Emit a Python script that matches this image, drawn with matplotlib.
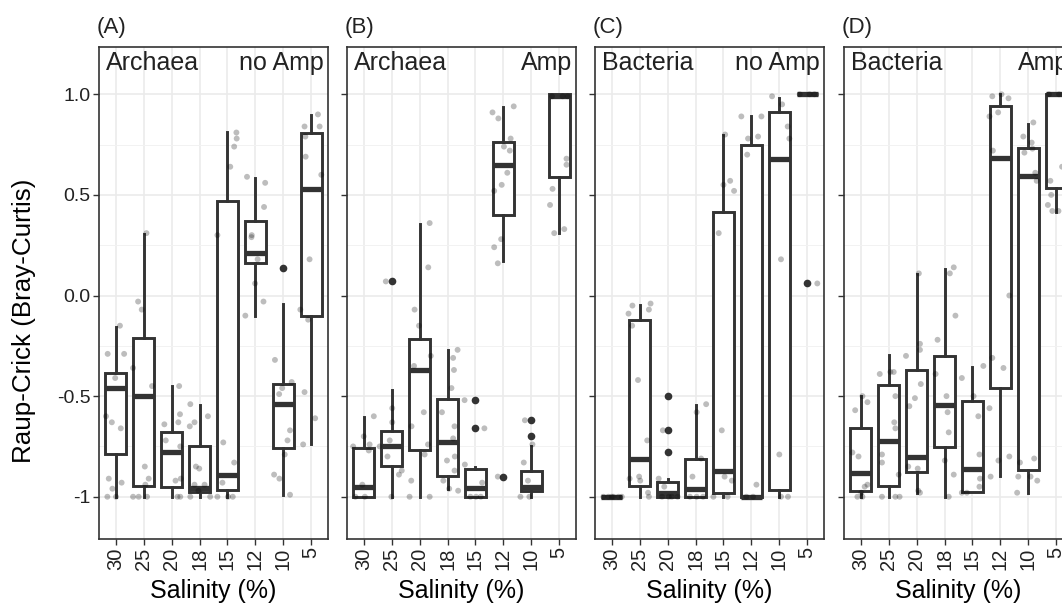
import matplotlib
matplotlib.use('Agg')
import matplotlib.pyplot as plt
import numpy as np

plt.rcParams['font.family'] = ['Liberation Sans', 'DejaVu Sans']

# ========== Datos ==========
salinity = ['30', '25', '20', '18', '15', '12', '10', '5']
panel_tags = ['(A)', '(B)', '(C)', '(D)']
domains = ['Archaea', 'Archaea', 'Bacteria', 'Bacteria']
treatments = ['no Amp', 'Amp', 'no Amp', 'Amp']

# ---------- Panel A: Archaea, no Amp ----------
a_lo = [-1.0, -1.0, -1.0, -1.0, -1.0, -0.10, -0.99, -0.74]
a_q1 = [-0.79, -0.945, -0.954, -0.974, -0.968, 0.16, -0.758, -0.10]
a_med = [-0.46, -0.50, -0.78, -0.955, -0.89, 0.21, -0.54, 0.53]
a_q3 = [-0.386, -0.209, -0.679, -0.75, 0.47, 0.371, -0.439, 0.81]
a_hi = [-0.154, 0.308, -0.452, -0.543, 0.815, 0.586, -0.043, 0.896]
a_out = [[], [], [], [], [], [], [0.137], []]
a_pts = [
    [(-0.29, -0.29), (0.30, -0.29), (0.15, -0.15), (-0.02, -0.41), (-0.35, -0.60), (-0.14, -0.63),
     (0.18, -0.66), (-0.25, -0.91), (-0.12, -0.96), (0.21, -0.93), (-0.30, -1.0), (0.01, -1.0)],
    [(0.10, 0.31), (-0.20, -0.03), (-0.07, -0.07), (-0.38, -0.36), (0.30, -0.45), (0.04, -0.85),
     (0.18, -0.91), (0.06, -0.94), (-0.38, -1.0), (-0.18, -1.0), (0.12, -1.0)],
    [(0.27, -0.45), (0.30, -0.59), (-0.26, -0.64), (0.24, -0.63), (-0.21, -0.72), (0.31, -0.75),
     (0.14, -0.92), (0.33, -0.91), (0.21, -1.0), (0.31, -1.0)],
    [(-0.33, -0.54), (0.30, -0.60), (-0.18, -0.63), (-0.35, -0.65), (-0.13, -0.85), (-0.01, -0.86),
     (-0.18, -0.94), (0.18, -0.94), (-0.04, -0.97), (-0.33, -1.0), (0.38, -1.0)],
    [(0.32, 0.81), (0.33, 0.78), (0.24, 0.74), (0.10, 0.64), (-0.36, 0.30), (-0.15, -0.73),
     (0.24, -0.83), (-0.18, -0.93), (-0.36, -1.0), (0.02, -1.0), (0.19, -1.0)],
    [(-0.30, 0.59), (0.35, 0.56), (0.31, 0.44), (-0.13, 0.30), (-0.14, 0.29), (0.08, 0.18),
     (-0.01, 0.06), (0.29, -0.03), (-0.36, -0.10)],
    [(-0.30, -0.32), (0.30, -0.43), (-0.04, -0.46), (-0.15, -0.49), (0.24, -0.67), (0.15, -0.72),
     (0.05, -0.79), (-0.33, -0.89), (-0.14, -0.91), (0.24, -0.99)],
    [(0.24, 0.90), (-0.24, 0.84), (0.30, 0.84), (-0.21, 0.79), (-0.20, 0.69), (0.36, 0.60),
     (-0.06, 0.18), (-0.39, -0.07), (-0.11, -0.12), (-0.24, -0.48), (0.14, -0.61), (-0.29, -0.74)],
]

# ---------- Panel B: Archaea, Amp ----------
b_lo = [-1.0, -1.0, -1.0, -0.962, -1.0, 0.17, -1.0, 0.31]
b_q1 = [-1.0, -0.849, -0.767, -0.899, -1.0, 0.40, -0.969, 0.591]
b_med = [-0.952, -0.747, -0.369, -0.73, -0.955, 0.649, -0.952, 0.99]
b_q3 = [-0.76, -0.672, -0.217, -0.515, -0.863, 0.765, -0.871, 1.0]
b_hi = [-0.604, -0.47, 0.356, -0.273, -0.85, 0.935, -0.747, 1.0]
b_out = [[], [0.07], [], [], [-0.52, -0.66], [-0.90], [-0.62, -0.70], []]
b_pts = [
    [(0.36, -0.60), (0.0, -0.70), (0.21, -0.74), (-0.38, -0.75), (0.18, -0.77), (-0.05, -0.94),
     (-0.30, -1.0), (0.04, -1.0)],
    [(-0.21, 0.07), (0.02, -0.56), (0.02, -0.63), (-0.07, -0.72), (-0.43, -0.75), (-0.15, -0.80),
     (0.36, -0.87), (0.26, -0.89), (-0.01, -1.0)],
    [(0.36, 0.36), (0.31, 0.14), (-0.18, -0.07), (-0.02, -0.15), (0.40, -0.30), (-0.20, -0.35),
     (0.15, -0.58), (-0.29, -0.65), (0.30, -0.74), (0.18, -0.79), (-0.30, -0.92), (-0.36, -1.0),
     (0.36, -1.0)],
    [(0.36, -0.27), (0.20, -0.31), (0.23, -0.37), (0.14, -0.46), (-0.20, -0.58), (0.25, -0.65),
     (0.20, -0.71), (0.26, -0.80), (-0.02, -0.82), (0.25, -0.87), (-0.15, -0.92), (0.06, -0.96),
     (0.38, -0.97)],
    [(-0.39, -0.52), (0.32, -0.66), (-0.38, -0.84), (0.24, -0.93), (-0.18, -1.0), (0.02, -1.0),
     (0.19, -1.0)],
    [(0.37, 0.94), (-0.39, 0.91), (-0.18, 0.88), (0.26, 0.78), (0.02, 0.74), (0.23, 0.72),
     (0.14, 0.61), (-0.06, 0.55), (-0.33, 0.52), (-0.08, 0.28), (-0.33, 0.24), (-0.20, 0.16),
     (-0.20, -0.90)],
    [(-0.23, -0.62), (0.04, -0.74), (-0.27, -0.83), (-0.12, -0.92), (-0.39, -1.0), (-0.07, -1.0)],
    [(-0.26, 0.99), (0.12, 0.99), (0.30, 0.99), (0.26, 0.68), (0.26, 0.65), (-0.24, 0.53),
     (-0.33, 0.45), (0.18, 0.33), (-0.18, 0.31)],
]

# ---------- Panel C: Bacteria, no Amp ----------
c_lo = [-1.0, -1.0, -1.0, -1.0, -1.0, -1.0, -1.0, 1.0]
c_q1 = [-1.0, -0.949, -1.0, -1.0, -0.98, -1.0, -0.965, 1.0]
c_med = [-1.0, -0.813, -0.98, -0.962, -0.87, -1.0, 0.679, 1.0]
c_q3 = [-1.0, -0.121, -0.925, -0.813, 0.417, 0.747, 0.914, 1.0]
c_hi = [-1.0, -0.046, -0.91, -0.543, 0.80, 0.892, 0.98, 1.0]
c_out = [[], [], [-0.50, -0.67, -0.78], [], [], [], [], [0.06]]
c_pts = [
    [(-0.30, -1.0), (-0.12, -1.0), (0.06, -1.0), (0.24, -1.0), (0.36, -1.0), (0.0, -1.0)],
    [(0.39, -0.04), (-0.26, -0.05), (0.33, -0.07), (-0.40, -0.09), (-0.27, -0.15), (-0.06, -0.42),
     (0.27, -0.72), (-0.36, -0.91), (-0.02, -0.90), (0.02, -0.92), (0.30, -0.98), (0.33, -1.0)],
    [(-0.17, -0.67), (-0.32, -0.91), (-0.12, -0.95), (-0.20, -1.0), (0.04, -1.0), (0.15, -1.0),
     (0.36, -1.0)],
    [(0.38, -0.54), (0.04, -0.58), (0.20, -0.81), (-0.11, -0.90), (-0.20, -1.0), (0.04, -1.0),
     (0.27, -1.0)],
    [(0.06, 0.80), (0.24, 0.57), (0.0, 0.55), (0.38, 0.52), (-0.17, 0.31), (-0.06, -0.67),
     (0.04, -0.90), (0.30, -0.92), (0.15, -1.0), (-0.36, -1.0)],
    [(-0.36, 0.89), (0.36, 0.89), (0.24, 0.79), (-0.12, 0.78), (-0.15, 0.70), (0.18, -0.94),
     (-0.18, -1.0), (0.06, -1.0)],
    [(-0.26, 0.99), (0.10, 0.95), (0.30, 0.84), (0.36, 0.78), (0.06, 0.18), (0.0, -0.79),
     (0.31, -1.0), (0.06, -1.0)],
    [(0.36, 0.06), (-0.27, 1.0), (0.08, 1.0), (0.26, 1.0)],
]

# ---------- Panel D: Bacteria, Amp ----------
d_lo = [-1.0, -1.0, -0.98, -1.0, -0.974, -0.899, -0.98, 0.417]
d_q1 = [-0.97, -0.945, -0.879, -0.755, -0.974, -0.46, -0.866, 0.533]
d_med = [-0.883, -0.722, -0.803, -0.543, -0.861, 0.685, 0.596, 1.0]
d_q3 = [-0.659, -0.444, -0.369, -0.303, -0.523, 0.944, 0.735, 1.0]
d_hi = [-0.498, -0.295, 0.106, 0.132, -0.356, 1.0, 0.851, 1.0]
d_out = [[], [], [], [], [], [], [], []]
d_pts = [
    [(0.06, -0.50), (0.24, -0.53), (-0.20, -0.57), (-0.30, -0.78), (-0.08, -0.80), (0.24, -0.94),
     (0.14, -0.95), (0.02, -0.98), (-0.12, -1.0), (0.06, -1.0)],
    [(0.18, -0.38), (0.06, -0.38), (-0.32, -0.39), (0.24, -0.50), (0.20, -0.63), (0.24, -0.66),
     (-0.24, -0.79), (-0.24, -0.83), (0.36, -0.89), (-0.24, -1.0), (0.24, -1.0), (0.39, -1.0)],
    [(0.08, 0.11), (0.12, -0.24), (0.12, -0.27), (-0.38, -0.30), (0.15, -0.44), (-0.06, -0.51),
     (-0.26, -0.55), (-0.30, -0.85), (0.04, -0.86), (0.06, -0.97), (0.12, -0.98)],
    [(0.33, 0.14), (0.19, 0.11), (0.39, -0.10), (-0.25, -0.22), (-0.32, -0.39), (0.07, -0.50),
     (0.11, -0.58), (0.15, -0.68), (0.01, -0.82), (0.33, -0.89), (0.15, -1.0)],
    [(0.39, -0.35), (-0.38, -0.41), (0.04, -0.50), (0.21, -0.60), (0.25, -0.79), (0.27, -0.91),
     (0.25, -0.95), (-0.20, -0.98), (-0.38, -0.98)],
    [(0.04, 1.0), (-0.29, 0.99), (0.29, 0.98), (-0.08, 0.91), (-0.39, 0.89), (-0.27, 0.72),
     (0.32, 0.0), (-0.29, -0.31), (0.11, -0.36), (-0.39, -0.56), (-0.07, -0.82), (0.32, -0.80),
     (-0.35, -0.90)],
    [(0.18, 0.86), (-0.18, 0.79), (0.12, 0.76), (-0.14, 0.71), (0.15, 0.73), (0.25, 0.61),
     (0.30, 0.57), (0.21, -0.81), (-0.30, -0.83), (0.08, -0.90), (-0.36, -0.90), (0.32, -0.92),
     (-0.40, -0.98)],
    [(-0.21, 0.57), (0.21, 0.64), (-0.18, 0.50), (-0.30, 0.45), (-0.14, 0.42), (0.08, 0.42),
     (-0.26, 1.0), (0.10, 1.0)],
]

panels = [
    (a_lo, a_q1, a_med, a_q3, a_hi, a_out, a_pts),
    (b_lo, b_q1, b_med, b_q3, b_hi, b_out, b_pts),
    (c_lo, c_q1, c_med, c_q3, c_hi, c_out, c_pts),
    (d_lo, d_q1, d_med, d_q3, d_hi, d_out, d_pts),
]

# ========== Figura ==========
dark = '#333333'
fig = plt.figure(figsize=(10.62, 6.04), dpi=100)

px_left = [99, 347, 595, 844]
pw, ph = 229, 492
fig_w, fig_h = 1062, 604
bottom = (fig_h - 539) / fig_h

pos = np.arange(1, len(salinity) + 1)

for i, (lo, q1, med, q3, hi, out, pts) in enumerate(panels):
    ax = fig.add_axes([px_left[i] / fig_w, bottom, pw / fig_w, ph / fig_h])

    stats = []
    for k in range(len(salinity)):
        stats.append({'whislo': lo[k], 'q1': q1[k], 'med': med[k], 'q3': q3[k],
                      'whishi': hi[k], 'fliers': out[k]})

    ax.bxp(stats, positions=pos, widths=0.75, patch_artist=True, showcaps=False,
           boxprops=dict(facecolor='white', edgecolor=dark, linewidth=2.1),
           whiskerprops=dict(color=dark, linewidth=2.1),
           medianprops=dict(color=dark, linewidth=3.8, solid_capstyle='butt'),
           flierprops=dict(marker='o', markerfacecolor=dark, markeredgecolor='none',
                           markersize=5.5))

    # puntos con jitter
    for k in range(len(salinity)):
        if pts[k]:
            dx = np.array([p[0] for p in pts[k]])
            yv = np.array([p[1] for p in pts[k]])
            ax.scatter(pos[k] + dx, yv, s=18, color='black', alpha=0.26,
                       edgecolors='none', zorder=5)

    ax.set_xlim(0.4, 8.6)
    ax.set_ylim(-1.21, 1.235)
    ax.set_xticks(pos)
    ax.set_xticklabels(salinity, rotation=90, fontsize=14.5)
    ax.set_yticks([-1, -0.5, 0, 0.5, 1])
    ax.set_yticks([-0.75, -0.25, 0.25, 0.75], minor=True)
    if i == 0:
        ax.set_yticklabels(['-1', '-0.5', '0.0', '0.5', '1.0'], fontsize=14)
    else:
        ax.set_yticklabels([])
        ax.tick_params(axis='y', length=0)
    ax.tick_params(axis='both', which='major', color=dark, length=4, width=1,
                   labelcolor='#222222', pad=2)
    ax.tick_params(axis='y', which='minor', length=0)

    ax.set_axisbelow(True)
    ax.grid(which='major', color='#ebebeb', linewidth=1.2)
    ax.grid(which='minor', axis='y', color='#f2f2f2', linewidth=0.7)
    for sp in ax.spines.values():
        sp.set_color(dark)
        sp.set_linewidth(1.2)

    ax.set_xlabel('Salinity (%)', fontsize=18, labelpad=6.5)

    ax.text(0.03, 0.953, domains[i], transform=ax.transAxes, fontsize=18,
            ha='left', va='baseline', color='#222222')
    ax.text(0.983, 0.953, treatments[i], transform=ax.transAxes, fontsize=18,
            ha='right', va='baseline', color='#222222')
    ax.text(-0.01, 1.018, panel_tags[i], transform=ax.transAxes, fontsize=16,
            ha='left', va='bottom', color='#222222')

fig.text(24 / fig_w, 1 - 321 / fig_h, 'Raup-Crick (Bray-Curtis)', rotation=90,
         fontsize=18.7, ha='center', va='center')

fig.savefig('out.png', dpi=100)
